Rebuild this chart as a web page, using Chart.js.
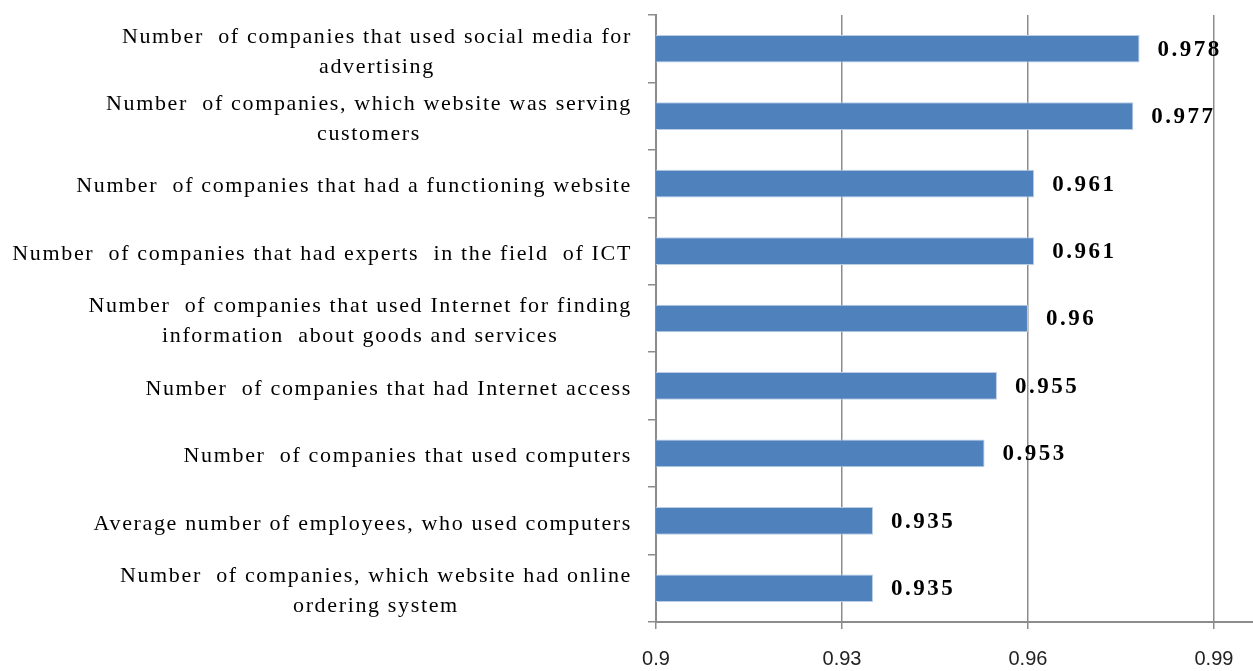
<!DOCTYPE html>
<html>
<head>
<meta charset="utf-8">
<script src="https://cdn.jsdelivr.net/npm/chart.js@4.4.1/dist/chart.umd.min.js"></script>
<style>
  html, body { margin: 0; padding: 0; background: #fff; overflow: hidden; }
  #wrap { width: 1253px; height: 671px; position: relative; }
</style>
</head>
<body>
<div id="wrap"><canvas id="chart"></canvas></div>
<script>
// categories, top to bottom
const categories = [
  ["Number  of companies that used social media for", "advertising"],
  ["Number  of companies, which website was serving", "customers"],
  ["Number  of companies that had a functioning website"],
  ["Number  of companies that had experts  in the field  of ICT"],
  ["Number  of companies that used Internet for finding", "information  about goods and services"],
  ["Number  of companies that had Internet access"],
  ["Number  of companies that used computers"],
  ["Average number of employees, who used computers"],
  ["Number  of companies, which website had online", "ordering system"]
];
const values = [0.978, 0.977, 0.961, 0.961, 0.96, 0.955, 0.953, 0.935, 0.935];
const valueLabels = ["0.978", "0.977", "0.961", "0.961", "0.96", "0.955", "0.953", "0.935", "0.935"];

const xTicks = [0.9, 0.93, 0.96, 0.99];
const xTickLabels = ["0.9", "0.93", "0.96", "0.99"];

const serif = "'Liberation Serif', 'Times New Roman', serif";

/* category labels: block right aligned, lines centred */
const catLabels = {
  id: "catLabels",
  afterDraw(chart) {
    const scale = chart.scales.y;
    const ctx = chart.ctx;
    ctx.save();
    ctx.font = "22px " + serif;
    ctx.letterSpacing = "1.65px";
    ctx.fillStyle = "#000";
    ctx.textBaseline = "middle";
    ctx.textAlign = "center";
    categories.forEach((lines, i) => {
      const y = scale.getPixelForTick(i) + 3;
      const w = Math.max(...lines.map(l => ctx.measureText(l).width));
      const cx = scale.right - 24 - w / 2;
      lines.forEach((l, j) => {
        ctx.fillText(l, cx, y + (j - (lines.length - 1) / 2) * 30);
      });
    });
    ctx.restore();
  }
};

/* value labels after each bar */
const barValues = {
  id: "barValues",
  afterDatasetsDraw(chart) {
    const ctx = chart.ctx;
    const meta = chart.getDatasetMeta(0);
    ctx.save();
    ctx.font = "bold 23px " + serif;
    ctx.letterSpacing = "2.5px";
    ctx.fillStyle = "#000";
    ctx.textBaseline = "middle";
    ctx.textAlign = "left";
    meta.data.forEach((bar, i) => {
      ctx.fillText(valueLabels[i], bar.x + 18, bar.y + 1);
    });
    ctx.restore();
  }
};

new Chart(document.getElementById("chart"), {
  type: "bar",
  data: {
    labels: categories,
    datasets: [{
      data: values,
      backgroundColor: "#4f81bd",
      borderColor: "#b9cde5",
      borderWidth: 1,
      barPercentage: 0.41,
      categoryPercentage: 1
    }]
  },
  options: {
    indexAxis: "y",
    responsive: true,
    maintainAspectRatio: false,
    animation: false,
    layout: { padding: { top: 15, right: 0, bottom: -18, left: 0 } },
    plugins: { legend: { display: false }, tooltip: { enabled: false } },
    scales: {
      x: {
        min: 0.9,
        max: 0.9963,
        afterBuildTicks: s => { s.ticks = xTicks.map(v => ({ value: v })); },
        ticks: {
          callback: (v, i) => xTickLabels[i],
          font: { family: "'Liberation Sans', Arial, sans-serif", size: 20 },
          color: "#222",
          padding: 18,
          maxRotation: 0
        },
        grid: { color: "#8c8c8c", lineWidth: 1.5, tickLength: 7 },
        border: { color: "#8c8c8c", width: 2 }
      },
      y: {
        afterFit: s => { s.width = 656; },
        ticks: { color: "transparent", font: { size: 1 }, callback: () => "" },
        grid: { drawOnChartArea: false, color: "#8c8c8c", lineWidth: 1.5, tickLength: 8 },
        border: { color: "#8c8c8c", width: 2 }
      }
    }
  },
  plugins: [catLabels, barValues]
});
</script>
</body>
</html>
